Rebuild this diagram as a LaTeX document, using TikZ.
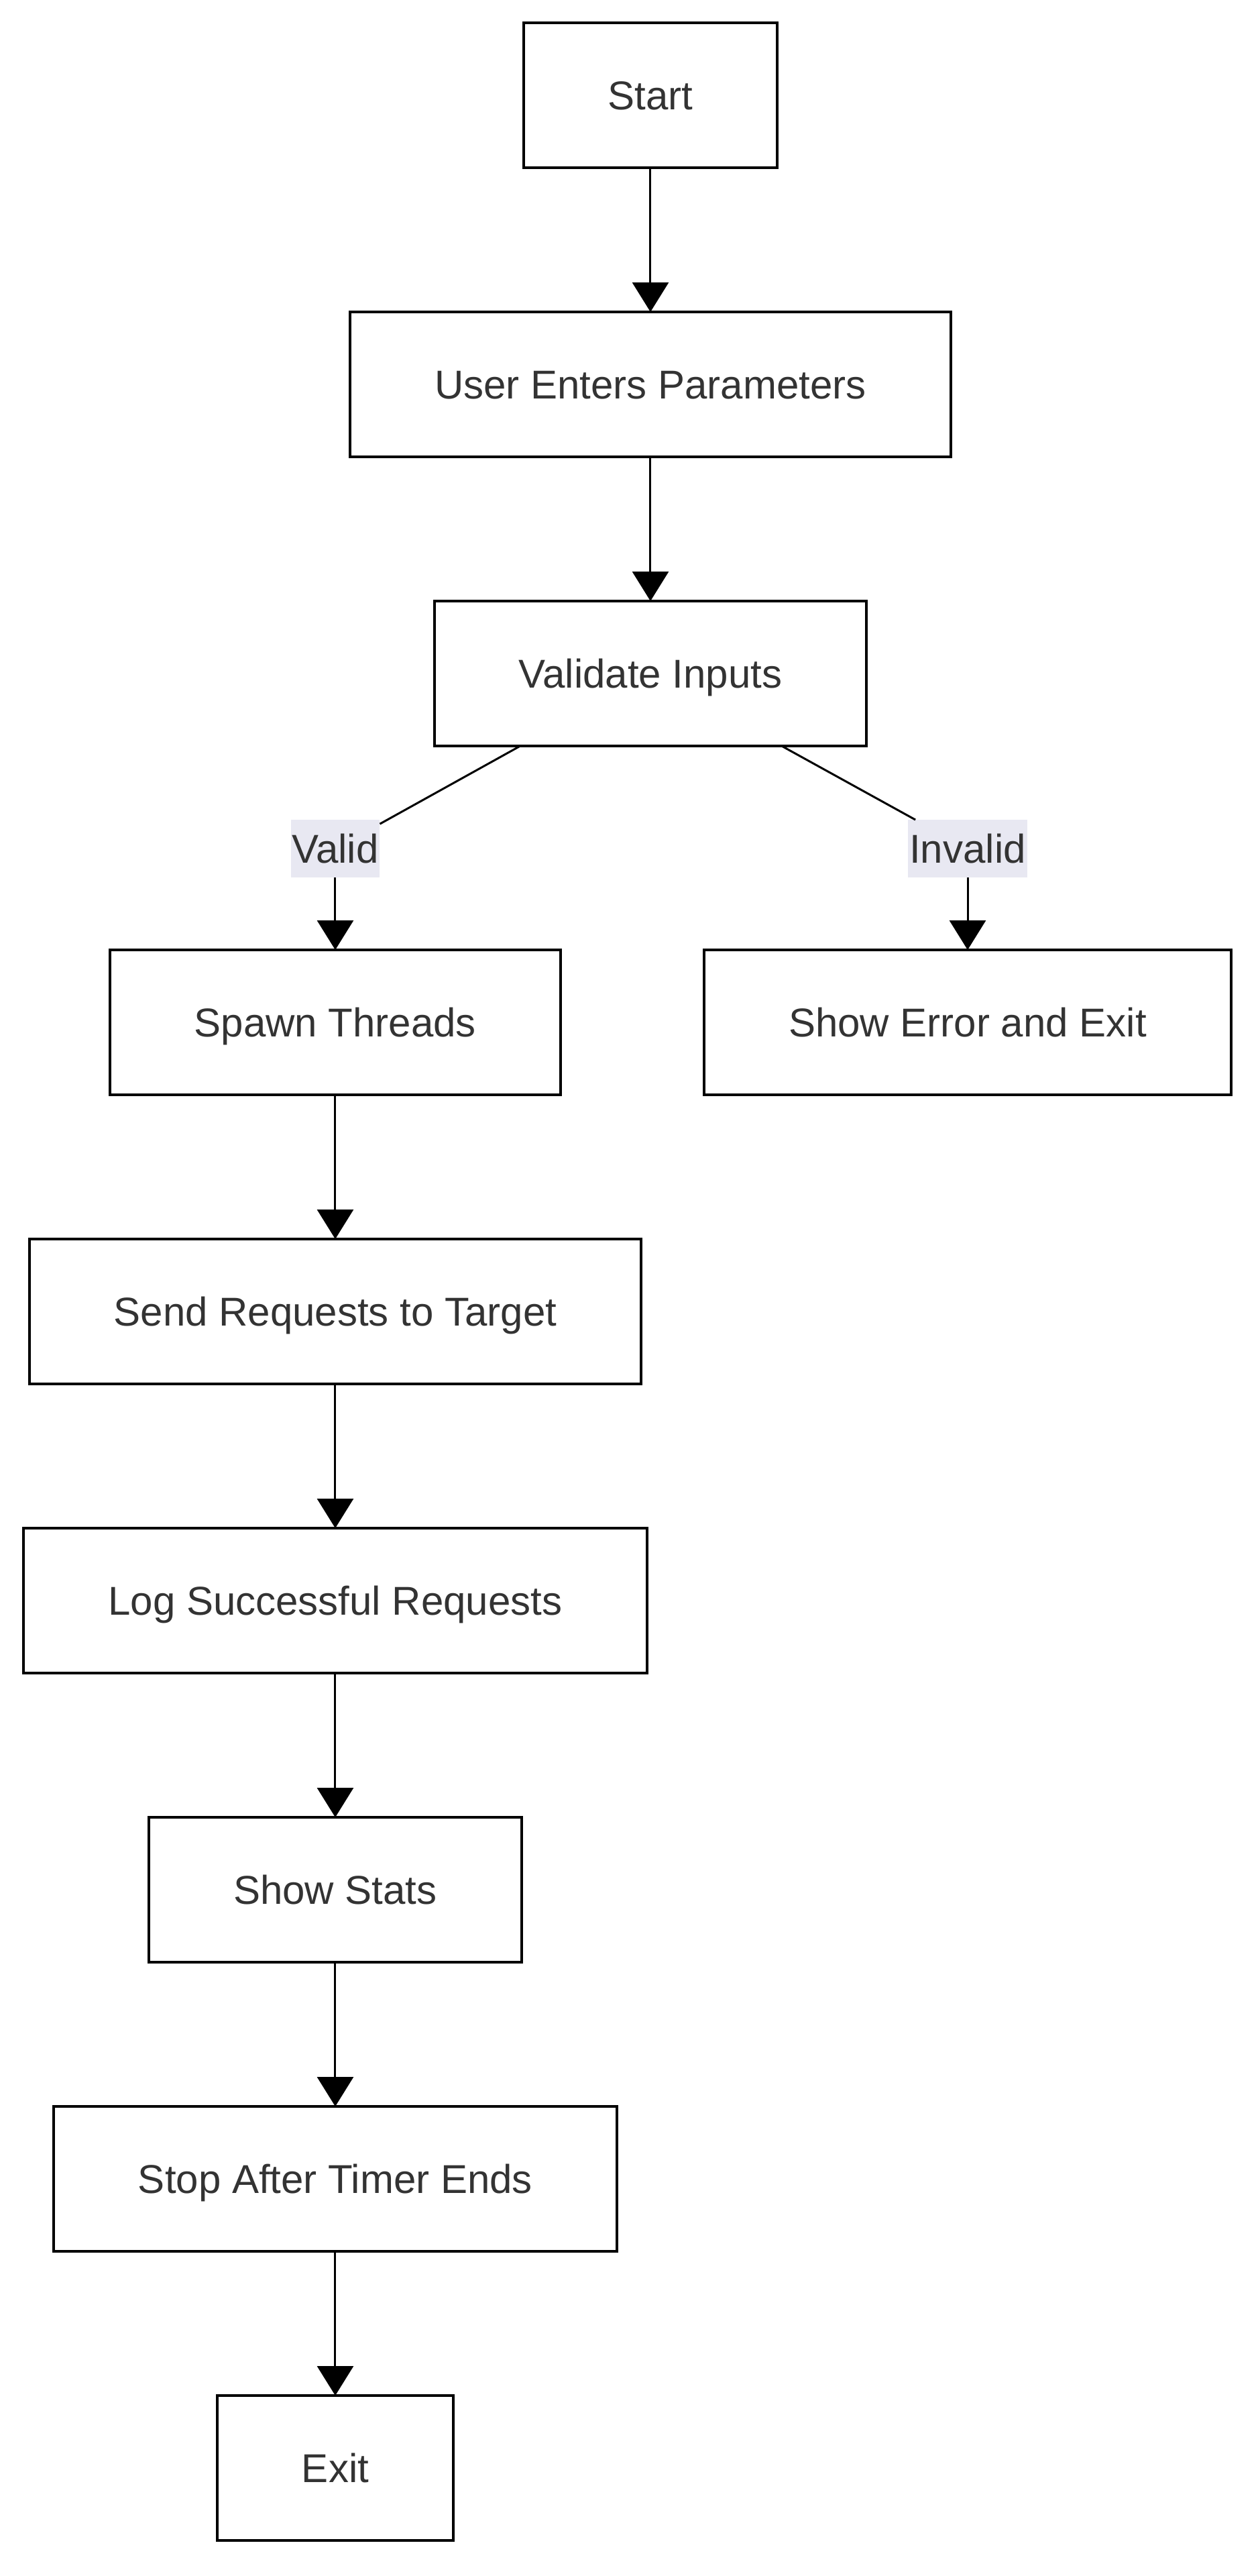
\documentclass[tikz,border=0pt]{standalone}
\usepackage{fontspec}
\setmainfont{Liberation Sans}
\usetikzlibrary{positioning,arrows.meta}
\definecolor{txtgray}{HTML}{333333}
\definecolor{labbg}{HTML}{E8E8F2}

\begin{document}
\begin{tikzpicture}[node distance=107.5pt,
    box/.style={draw, line width=2pt, outer sep=0pt, text=txtgray, minimum height=108pt, inner xsep=63pt, text height=25pt, text depth=3.5pt, font=\fontsize{30}{36}\selectfont},
    lab/.style={fill=labbg, outer sep=0pt, text=txtgray, minimum height=43pt, inner xsep=1pt, text height=25pt, text depth=3.5pt, font=\fontsize{30}{36}\selectfont},
    arr/.style={line width=1.5pt, -{Triangle[length=22pt, width=27pt]}}]
    \useasboundingbox (-485pt,71pt) rectangle (454.5pt,-1849pt);

    % Define nodes
    \node[box] (start) {Start};
    \node[box, below=of start] (user) {User Enters Parameters};
    \node[box, below=of user] (val) {Validate Inputs};
    \node[lab] (vlab) at ([xshift=-235pt, yshift=-76.5pt]val.south) {Valid};
    \node[lab] (ilab) at ([xshift=236.5pt, yshift=-76.5pt]val.south) {Invalid};
    \node[box, below=54pt of vlab] (spawn) {Spawn Threads};
    \node[box, below=54pt of ilab] (err) {Show Error and Exit};
    \node[box, below=of spawn] (send) {Send Requests to Target};
    \node[box, below=of send] (log) {Log Successful Requests};
    \node[box, below=of log] (stats) {Show Stats};
    \node[box, below=of stats] (stop) {Stop After Timer Ends};
    \node[box, below=of stop] (exit) {Exit};

    % Draw arrows
    \draw[arr] (start) -- (user);
    \draw[arr] (user) -- (val);
    \draw[line width=1.5pt] (val) -- (vlab);
    \draw[arr] (vlab) -- (spawn);
    \draw[line width=1.5pt] (val) -- (ilab);
    \draw[arr] (ilab) -- (err);
    \draw[arr] (spawn) -- (send);
    \draw[arr] (send) -- (log);
    \draw[arr] (log) -- (stats);
    \draw[arr] (stats) -- (stop);
    \draw[arr] (stop) -- (exit);
\end{tikzpicture}
\end{document}
